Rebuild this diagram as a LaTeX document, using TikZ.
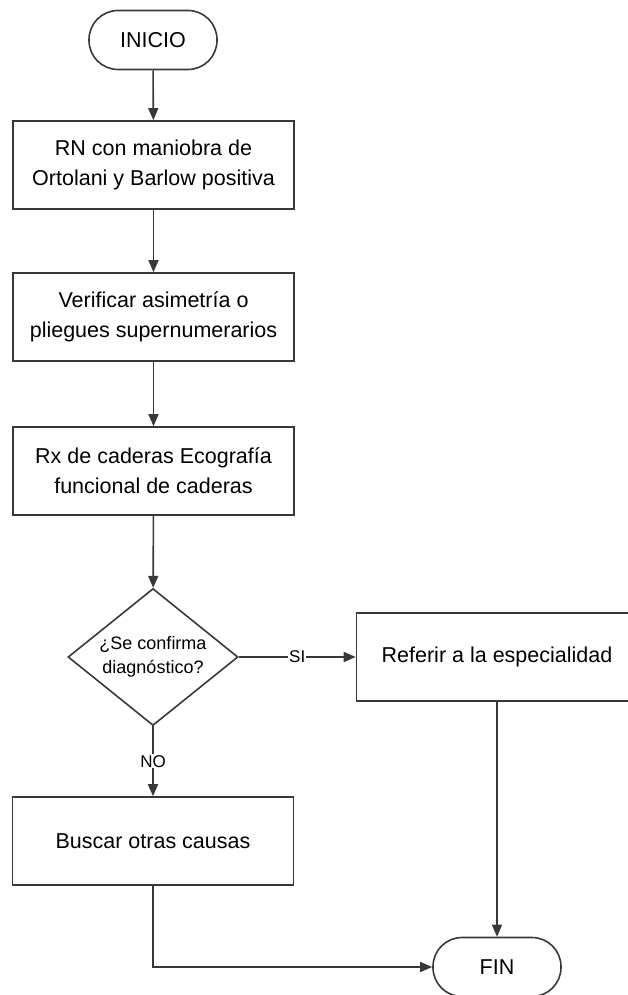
\documentclass[tikz,border=0pt]{standalone}
\usepackage{fontspec}
\setmainfont{Liberation Sans}
\usetikzlibrary{arrows.meta,shapes.geometric}

\begin{document}
\begin{tikzpicture}[x=1pt,y=-1pt,line width=1.6pt,
  font=\fontsize{21.5}{30}\selectfont,
  >={Triangle[length=12pt,width=10pt]},
  paso/.style={draw=black!78,fill=white,minimum width=281pt,minimum height=88pt,align=center,inner sep=2pt},
  terminal/.style={draw=black!78,rounded corners=29pt,minimum width=128pt,minimum height=59pt},
  decision/.style={draw=black!78,diamond,aspect=1.24,minimum width=170pt,minimum height=137pt,inner sep=0pt,align=center,font=\fontsize{18}{24}\selectfont},
  etiq/.style={fill=white,inner sep=1pt,font=\fontsize{17}{20}\selectfont}]
\useasboundingbox (0,0) rectangle (628,995);
\node[terminal] (ini) at (153,40) {INICIO};
\node[paso] (ortolani) at (153.5,165) {RN con maniobra de\\Ortolani y Barlow positiva};
\node[paso] (asim) at (153.5,317) {Verificar asimetría o\\pliegues supernumerarios};
\node[paso] (rx) at (153.5,471) {Rx de caderas Ecografía\\funcional de caderas};
\node[decision] (conf) at (153,657) {¿Se confirma\\diagnóstico?};
\node[paso] (refer) at (497,657) {Referir a la especialidad};
\node[paso] (buscar) at (153,841) {Buscar otras causas};
\node[terminal] (fin) at (497,967) {FIN};
\draw[->,draw=black!78] (ini) -- (ortolani);
\draw[->,draw=black!78] (ortolani) -- (asim);
\draw[->,draw=black!78] (asim) -- (rx);
\draw[->,draw=black!78] (rx) -- (conf);
\draw[->,draw=black!78] (conf) -- node[etiq]{SI} (refer);
\draw[->,draw=black!78] (conf) -- node[etiq]{NO} (buscar);
\draw[->,draw=black!78] (refer) -- (fin);
\draw[->,draw=black!78] (buscar.south) |- (fin.west);
\end{tikzpicture}
\end{document}
